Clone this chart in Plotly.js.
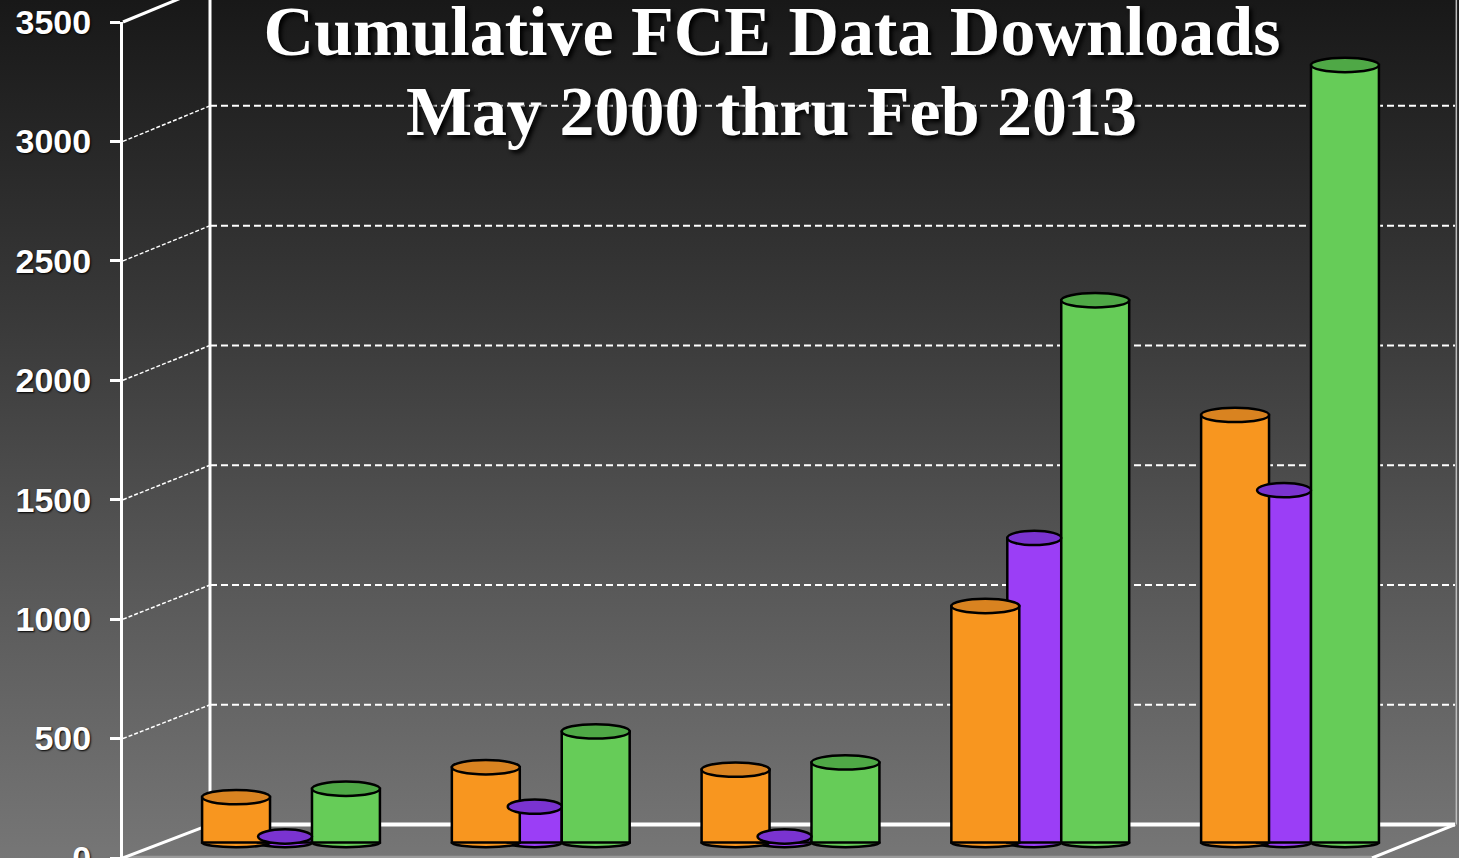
<!DOCTYPE html>
<html>
<head>
<meta charset="utf-8">
<script src="https://cdn.plot.ly/plotly-3.0.1.min.js"></script>
<style>
  html, body { margin:0; padding:0; width:1459px; height:858px; overflow:hidden;
    background: linear-gradient(to bottom, #181818 0%, #3a3a3a 38%, #5a5a5a 70%, #767676 100%); }
  #chart { width:1459px; height:858px; }
</style>
</head>
<body>
<div id="chart"></div>
<script>
// ---- data ----
const categories = ['Group 1', 'Group 2', 'Group 3', 'Group 4', 'Group 5'];
const seriesNames = ['Series 1', 'Series 2', 'Series 3'];
const orangeValues = [190, 315, 305, 990, 1790];
const purpleValues = [25, 150, 25, 1275, 1475];
const greenValues  = [225, 465, 335, 2270, 3255];
const yTickVals = [0, 500, 1000, 1500, 2000, 2500, 3000, 3500];
const yTickText = ['0', '500', '1000', '1500', '2000', '2500', '3000', '3500'];

// ---- styling ----
const YMAX = 3500;
const BASE = 65;            // cylinders sit slightly behind the front edge
const TOP_H = 60;           // height of the top ellipse, in value units
const BOT_H = 40;
const bx = (210 - 123) / 1336;   // back wall left edge (paper)
const rx = (1455 - 123) / 1336;  // back wall right edge (paper)
const fx = (1372 - 123) / 1336;  // floor front-right corner (paper)
const backOff = v => 140 + v * 0.003;
const py = v => v / YMAX;

const series = [
  {name: seriesNames[1], vals: purpleValues, color: '#9b3ef6', top: '#7a33d0', offset: -0.128, width: 0.216},
  {name: seriesNames[0], vals: orangeValues, color: '#f8961f', top: '#d98320', offset: -0.352, width: 0.272},
  {name: seriesNames[2], vals: greenValues,  color: '#66cc58', top: '#4fa846', offset: 0.088,  width: 0.272}
];

const traces = series.map(s => ({
  type: 'bar',
  name: s.name,
  x: categories,
  y: s.vals,
  base: s.vals.map(() => BASE),
  offset: s.offset,
  width: s.width,
  marker: {color: s.color, line: {color: '#000', width: 2.5}},
  hovertemplate: '%{x}: %{y}<extra>' + s.name + '</extra>'
}));

const shapes = [];
// floor & walls
shapes.push({type:'line', xref:'paper', yref:'paper', x0:0, y0:0.001, x1:fx, y1:0.001, line:{color:'#9a9a9a', width:3}, layer:'below'});
shapes.push({type:'line', xref:'paper', yref:'paper', x0:bx, y0:py(backOff(0)), x1:rx, y1:py(backOff(0)), line:{color:'#ffffff', width:4}, layer:'below'});
shapes.push({type:'line', xref:'paper', yref:'paper', x0:rx, y0:py(backOff(0)), x1:fx, y1:0, line:{color:'#ffffff', width:3}, layer:'below'});
shapes.push({type:'line', xref:'paper', yref:'paper', x0:bx, y0:py(backOff(0)), x1:bx, y1:1.1, line:{color:'#ffffff', width:3}, layer:'below'});
shapes.push({type:'line', xref:'paper', yref:'paper', x0:rx + 0.001, y0:py(backOff(0)), x1:rx + 0.001, y1:1.1, line:{color:'#bdbdbd', width:1.5}, layer:'below'});
// side-wall and back-wall grid lines
yTickVals.forEach(v => {
  const solid = (v === 0 || v === YMAX);
  shapes.push({type:'line', xref:'paper', yref:'paper', x0:0, y0:py(v), x1:bx, y1:py(v + backOff(v)),
    line:{color:'#ffffff', width: solid ? 3 : 1.5, dash: solid ? 'solid' : '4px,2px'}, layer:'below'});
  if (!solid) {
    shapes.push({type:'line', xref:'paper', yref:'paper', x0:bx, y0:py(v + backOff(v)), x1:rx, y1:py(v + backOff(v)),
      line:{color:'#ffffff', width:2, dash:'7px,4px'}, layer:'below'});
  }
});
// cylinder bottoms and tops, positioned from the data through the axes
series.forEach(s => {
  s.vals.forEach((v, j) => {
    shapes.push({type:'circle', xref:'x', yref:'y', x0: j + s.offset, x1: j + s.offset + s.width,
      y0: BASE - BOT_H / 2, y1: BASE + BOT_H / 2, fillcolor: s.color, line:{color:'#000', width:2.5}, layer:'below'});
  });
});
series.forEach(s => {
  s.vals.forEach((v, j) => {
    shapes.push({type:'circle', xref:'x', yref:'y', x0: j + s.offset, x1: j + s.offset + s.width,
      y0: BASE + v - TOP_H / 2, y1: BASE + v + TOP_H / 2, fillcolor: s.top, line:{color:'#000', width:2.5}, layer:'above'});
  });
});

const layout = {
  width: 1459, height: 858,
  margin: {l: 123, r: 0, t: 22, b: 0, pad: 0},
  paper_bgcolor: 'rgba(0,0,0,0)',
  plot_bgcolor: 'rgba(0,0,0,0)',
  showlegend: false,
  barmode: 'overlay',
  title: {
    text: 'Cumulative FCE Data Downloads',
    font: {family: 'Liberation Serif, "Times New Roman", serif', size: 70, color: '#ffffff', weight: 'bold', shadow: '3px 3px 4px #000'},
    xref: 'container', yref: 'container', x: 772 / 1459, xanchor: 'center', y: 1 - 30 / 858, yanchor: 'middle'
  },
  annotations: [{
    text: 'May 2000 thru Feb 2013', showarrow: false,
    xref: 'paper', yref: 'paper', x: (771 - 123) / 1336, xanchor: 'center', y: (858 - 112) / 836, yanchor: 'middle',
    font: {family: 'Liberation Serif, "Times New Roman", serif', size: 70, color: '#ffffff', weight: 'bold', shadow: '3px 3px 4px #000'}
  }],
  xaxis: {
    type: 'category', range: [-0.6687, 4.6806], showgrid: false, zeroline: false,
    showline: false, showticklabels: false, ticks: '', fixedrange: true
  },
  yaxis: {
    range: [0, YMAX], tickvals: yTickVals, ticktext: yTickText,
    showgrid: false, zeroline: false, showline: true, linecolor: '#ffffff', linewidth: 3,
    ticks: 'outside', ticklen: 10, tickwidth: 3, tickcolor: '#ffffff', ticklabelstandoff: 12,
    ticklabeloverflow: 'allow',
    tickfont: {family: 'Liberation Sans, Arial, sans-serif', size: 34, color: '#ffffff', weight: 'bold', shadow: '1px 1px 2px #000'},
    fixedrange: true
  },
  shapes: shapes
};

Plotly.newPlot('chart', traces, layout, {displayModeBar: false, staticPlot: true});
</script>
</body>
</html>
